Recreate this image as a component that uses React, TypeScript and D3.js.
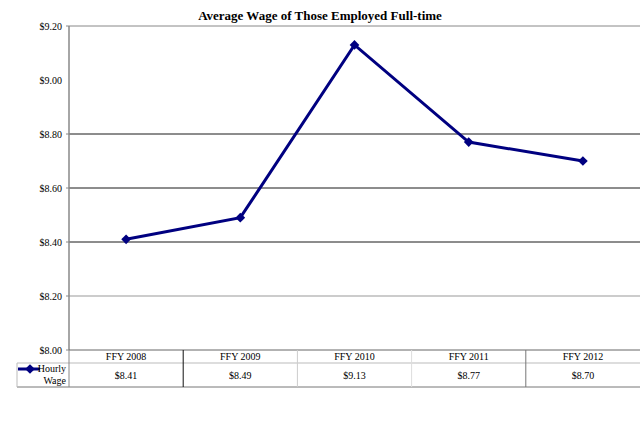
import React from "react";
import * as d3 from "d3";

const categories = ["FFY 2008", "FFY 2009", "FFY 2010", "FFY 2011", "FFY 2012"];
const hourlyWage = [8.41, 8.49, 9.13, 8.77, 8.7];
const yTicks = [8.0, 8.2, 8.4, 8.6, 8.8, 9.0, 9.2];
const gridValues = [8.2, 8.4, 8.6, 8.8, 9.2];
const seriesName = ["Hourly", "Wage"];
const title = "Average Wage of Those Employed Full-time";

const W = 640;
const H = 435;
const left = 69;
const right = 640;
const top = 26;
const bottom = 350;
const navy = "#000080";
const font = "Liberation Serif, serif";

export default function App() {
  const x = d3.scaleBand().domain(categories).range([left, right]).padding(0);
  const y = d3.scaleLinear().domain([8.0, 9.2]).range([bottom, top]);
  const cx = (c: string) => (x(c) as number) + x.bandwidth() / 2;
  const line = d3
    .line<number>()
    .x((_, i) => cx(categories[i]))
    .y((d) => y(d));
  const diamond = d3.symbol().type(d3.symbolDiamond2).size(60)();
  const gridColor = (v: number) => (v === 9.2 ? "#888" : v === 8.2 ? "#999" : "#1a1a1a");
  const sepColors = ["#111", "#ccc", "#ddd", "#777"];
  const rowTop = 363;
  const rowBottom = 387;

  return (
    <svg
      width={W}
      height={H}
      style={{ position: "absolute", left: 0, top: 0, background: "#fff", fontFamily: font }}
    >
      <rect x={0} y={0} width={W} height={H} fill="#fff" />
      <text x={320} y={20} textAnchor="middle" fontFamily={font} fontWeight="bold" fontSize={13}>
        {title}
      </text>
      {gridValues.map((v) => (
        <line key={v} x1={left} x2={right} y1={y(v)} y2={y(v)} stroke={gridColor(v)} strokeWidth={1} />
      ))}
      {yTicks.map((v) => (
        <g key={v}>
          {v !== 9.0 && <line x1={left - 3} x2={left} y1={y(v)} y2={y(v)} stroke="#888" />}
          <text x={62} y={y(v) + 3.5} textAnchor="end" fontFamily={font} fontSize={10}>
            {d3.format("$.2f")(v)}
          </text>
        </g>
      ))}
      <line x1={left} x2={left} y1={top} y2={bottom} stroke="#888" strokeWidth={1.5} />
      {/* table */}
      <line x1={left} x2={right} y1={bottom} y2={bottom} stroke="#666" />
      <line x1={17} x2={right} y1={rowTop} y2={rowTop} stroke="#bbb" />
      <line x1={17} x2={right} y1={rowBottom} y2={rowBottom} stroke="#777" />
      <line x1={17} x2={17} y1={rowTop} y2={rowBottom} stroke="#bbb" />
      <line x1={left} x2={left} y1={bottom} y2={rowBottom} stroke="#888" />
      {categories.slice(1).map((c, i) => (
        <line
          key={c}
          x1={x(c) as number}
          x2={x(c) as number}
          y1={bottom}
          y2={rowBottom}
          stroke={sepColors[i]}
        />
      ))}
      {categories.map((c, i) => (
        <g key={c}>
          <text x={cx(c)} y={360} textAnchor="middle" fontFamily={font} fontSize={10}>
            {c}
          </text>
          <text x={cx(c)} y={379} textAnchor="middle" fontFamily={font} fontSize={10}>
            {d3.format("$.2f")(hourlyWage[i])}
          </text>
        </g>
      ))}
      {/* legend key */}
      <line x1={18} x2={40} y1={369} y2={369} stroke={navy} strokeWidth={3} />
      <path d={diamond} transform="translate(30,369)" fill={navy} />
      <text x={66} y={372} textAnchor="end" fontFamily={font} fontSize={10}>
        {seriesName[0]}
      </text>
      <text x={66} y={384} textAnchor="end" fontFamily={font} fontSize={10}>
        {seriesName[1]}
      </text>
      {/* series */}
      <path d={line(hourlyWage) || ""} fill="none" stroke={navy} strokeWidth={3} />
      {hourlyWage.map((v, i) => (
        <path
          key={i}
          d={diamond}
          transform={`translate(${cx(categories[i])},${y(v)})`}
          fill={navy}
        />
      ))}
    </svg>
  );
}
